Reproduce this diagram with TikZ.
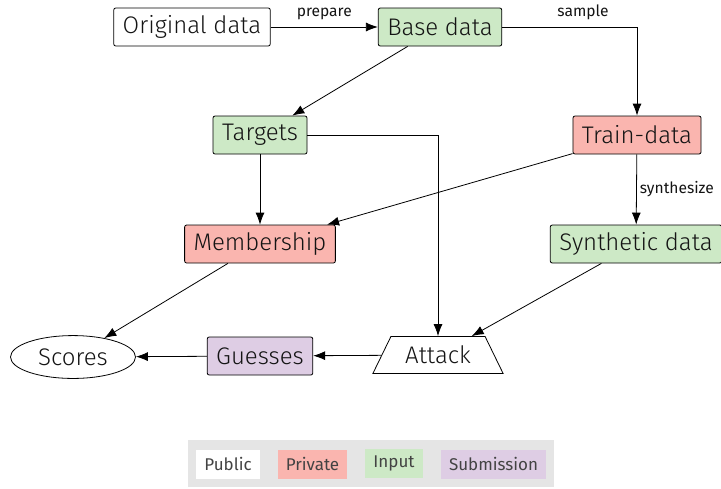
\documentclass[tikz,border=0pt]{standalone}
\usepackage{fontspec}
\setmainfont{Fira Sans}
\newfontfamily\thinfont{Fira Sans Light}
\usetikzlibrary{shapes.geometric,arrows.meta}
\definecolor{inputgreen}{RGB}{205,233,198}
\definecolor{privred}{RGB}{250,181,175}
\definecolor{submitpurple}{RGB}{222,205,228}
\definecolor{keygray}{RGB}{229,229,229}
\definecolor{inkgray}{RGB}{20,20,20}

\begin{document}
\begin{tikzpicture}[x=0.5pt,y=-0.5pt,
  box/.style={draw,rounded corners=1pt,text=inkgray,font=\thinfont\fontsize{12}{14}\selectfont,inner xsep=4.5pt,minimum height=19pt},
  flow/.style={-{Latex[length=6pt,width=4.5pt]}},
  lbl/.style={text=inkgray,font=\fontsize{7.8}{9}\selectfont},
  key/.style={text=inkgray!80,font=\fontsize{8.5}{10}\selectfont,minimum height=14.5pt,inner xsep=4pt}]

\useasboundingbox (0,0) rectangle (721,488);

\node[box] (orig) at (192,27) {Original data};
\node[box,fill=inputgreen] (base) at (440,27) {Base data};
\node[box,fill=inputgreen] (targ) at (260,135) {Targets};
\node[box,fill=privred] (train) at (637,135) {Train-data};
\node[box,fill=privred] (memb) at (260,244) {Membership};
\node[box,fill=inputgreen,minimum width=85pt] (synth) at (636,244) {Synthetic data};
\node[box,rounded corners=0pt,ellipse,minimum width=62.5pt,minimum height=21pt] (scores) at (73,357) {Scores};
\node[box,fill=submitpurple] (guess) at (260,356) {Guesses};
\node[box,rounded corners=0pt,trapezium,trapezium left angle=63,trapezium right angle=63,trapezium stretches=true,minimum width=65.5pt,minimum height=18.5pt] (attack) at (438,355) {Attack};

\draw[flow] (orig) -- node[lbl,above]{prepare} (base);
\draw[flow] (base) -| node[lbl,above,pos=0.3]{sample} (train);
\draw[flow] (base) -- (targ);
\draw[flow] (targ) -- (memb);
\draw[flow] (targ) -| (attack);
\draw[flow] (train) -- (memb);
\draw[flow] (train) -- node[lbl,right,inner xsep=1.5pt]{synthesize} (synth);
\draw[flow] (synth) -- (attack);
\draw[flow] (memb) -- (scores);
\draw[flow] (attack) -- (guess);
\draw[flow] (guess) -- (scores);

% legend
\node[fill=keygray,minimum width=183pt,minimum height=23.5pt] (legend) at (371,463.5) {};
\node[key,fill=white] (public) at (228,464) {Public};
\node[key,fill=privred] (private) at (312.5,464) {Private};
\node[key,fill=inputgreen] (input) at (394,463) {Input};
\node[key,fill=submitpurple] (submission) at (493.5,464) {Submission};

\end{tikzpicture}
\end{document}
